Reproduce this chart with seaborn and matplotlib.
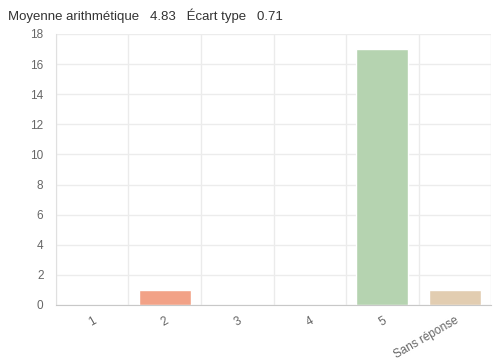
import matplotlib
matplotlib.use("Agg")
import matplotlib.pyplot as plt
import seaborn as sns
import pandas as pd
from matplotlib.ticker import FixedLocator

# Data
categories = ['1', '2', '3', '4', '5', 'Sans réponse']
counts = [0, 1, 0, 0, 17, 1]
bar_colors = ['#f0a58a', '#f2a287', '#f0a58a', '#f0a58a', '#b5d3b0', '#e2cdb1']
mean_value = 4.83
std_value = 0.71

sns.set_style('white')
plt.rcParams['font.family'] = ['Liberation Sans', 'DejaVu Sans']

df = pd.DataFrame({'category': categories, 'count': counts})

fig = plt.figure(figsize=(4.99, 3.6), dpi=100)
ax = fig.add_axes([0.1122, 0.1528, 0.8718, 0.7528])

sns.barplot(data=df, x='category', y='count', hue='category',
            palette=dict(zip(categories, bar_colors)), legend=False,
            width=0.72, ax=ax, saturation=1)

ax.set_xlim(-0.5, len(categories) - 0.5)
ax.set_ylim(0, 18)
ax.set_yticks(range(0, 19, 2))
ax.set_xlabel('')
ax.set_ylabel('')

# Vertical grid at category boundaries
ax.xaxis.set_minor_locator(FixedLocator([i - 0.5 for i in range(len(categories) + 1)]))
ax.grid(axis='x', which='minor', color='#ebebeb', linewidth=1)
ax.grid(axis='y', which='major', color='#ececec', linewidth=1)
ax.set_axisbelow(True)

ax.tick_params(axis='x', which='minor', length=10, color='#ebebeb', width=1)
ax.tick_params(axis='x', which='major', length=0, pad=7)
ax.tick_params(axis='y', which='major', length=6, color='#e8e8e8', width=1, pad=3)
ax.tick_params(labelsize=8.5, labelcolor='#666666')

for lbl in ax.get_xticklabels():
    lbl.set_rotation(30)
    lbl.set_ha('right')
    lbl.set_rotation_mode('anchor')

for side in ['top', 'right']:
    ax.spines[side].set_visible(False)
ax.spines['left'].set_color('#e0e0e0')
ax.spines['bottom'].set_color('#c8c8c8')

fig.text(0.016, 0.955,
         f'Moyenne arithmétique   {mean_value:.2f}   Écart type   {std_value:.2f}',
         fontsize=9.5, color='#333333', ha='left', va='center')

fig.savefig('out.png', dpi=100)
